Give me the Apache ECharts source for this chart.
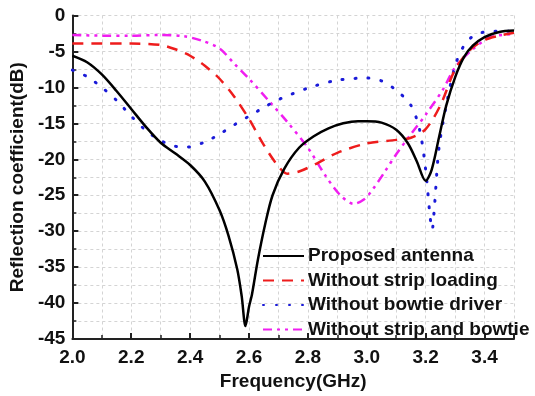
<!DOCTYPE html>
<html>
<head>
<meta charset="utf-8">
<script src="https://cdn.jsdelivr.net/npm/echarts@6/dist/echarts.min.js"></script>
<style>
  html, body { margin: 0; padding: 0; background: #fff; }
  #chart { width: 535px; height: 396px; }
</style>
</head>
<body>
<div id="chart"></div>
<script>
// Reflection coefficient vs frequency for four antenna configurations
const freqProposed = [2.0, 2.05, 2.1, 2.15, 2.2, 2.25, 2.3, 2.35, 2.4, 2.45, 2.5, 2.53, 2.56, 2.575, 2.588, 2.6, 2.61, 2.63, 2.655, 2.68, 2.72, 2.77, 2.82, 2.87, 2.92, 2.97, 3.0, 3.05, 3.1, 3.14, 3.17, 3.2, 3.22, 3.245, 3.27, 3.3, 3.33, 3.36, 3.4, 3.45, 3.5];
const s11Proposed = [-5.6, -6.5, -8.2, -10.5, -13.0, -15.5, -17.7, -19.2, -20.8, -23.1, -27.1, -30.6, -35.3, -39.0, -43.2, -40.5, -38.8, -34.0, -29.0, -25.0, -21.3, -18.4, -16.8, -15.7, -15.0, -14.7, -14.7, -14.9, -15.9, -17.8, -20.3, -23.0, -21.5, -17.0, -12.5, -8.6, -5.8, -4.2, -3.0, -2.3, -2.1];

const freqNoStrip = [2.0, 2.1, 2.2, 2.3, 2.35, 2.4, 2.45, 2.5, 2.55, 2.6, 2.65, 2.7, 2.73, 2.77, 2.83, 2.9, 3.0, 3.1, 3.15, 3.2, 3.25, 3.3, 3.35, 3.4, 3.45, 3.5];
const s11NoStrip = [-3.9, -3.9, -3.9, -4.1, -4.7, -5.6, -7.0, -8.8, -11.3, -14.4, -18.0, -21.0, -22.0, -21.7, -20.6, -19.1, -17.8, -17.3, -17.0, -15.8, -12.5, -7.5, -4.8, -3.4, -2.8, -2.4];

const freqNoBowtie = [2.0, 2.05, 2.1, 2.15, 2.2, 2.25, 2.3, 2.35, 2.39, 2.45, 2.5, 2.55, 2.6, 2.65, 2.7, 2.8, 2.9, 3.0, 3.05, 3.1, 3.15, 3.18, 3.2, 3.215, 3.222, 3.23, 3.245, 3.27, 3.3, 3.33, 3.36, 3.4, 3.45, 3.5];
const s11NoBowtie = [-7.6, -8.5, -10.0, -11.8, -14.0, -16.0, -17.4, -18.2, -18.3, -17.6, -16.5, -15.2, -14.0, -12.8, -11.7, -10.1, -9.0, -8.7, -9.1, -10.4, -12.5, -16.0, -21.5, -28.0, -29.8, -26.5, -18.5, -12.5, -7.0, -4.2, -2.9, -2.3, -2.2, -2.2];

const freqNoBoth = [2.0, 2.1, 2.2, 2.3, 2.38, 2.44, 2.5, 2.55, 2.6, 2.67, 2.73, 2.8, 2.86, 2.91, 2.955, 2.99, 3.02, 3.06, 3.1, 3.15, 3.2, 3.26, 3.3, 3.36, 3.42, 3.5];
const s11NoBoth = [-2.7, -2.8, -2.8, -2.7, -2.9, -3.5, -4.6, -6.7, -8.8, -12.0, -14.8, -18.4, -22.3, -25.0, -26.2, -25.6, -24.2, -21.8, -19.3, -16.5, -13.8, -10.2, -7.2, -4.7, -3.0, -2.6];

const seriesNames = ['Proposed antenna', 'Without strip loading', 'Without bowtie driver', 'Without strip and bowtie'];

function pairs(xs, ys) { return xs.map((x, i) => [x, ys[i]]); }

const fontFamily = '"Liberation Sans", Arial, sans-serif';
const axisColor = '#222';
const gridLine = { show: true, lineStyle: { color: '#d4d4d4', type: [3, 3], width: 1 } };
const labelFont = { fontFamily, fontWeight: 'bold', fontSize: 19, color: '#111' };

// itemStyle is transparent so the legend shows only the line sample
function lineSeries(name, xs, ys, color, width, dash, cap, z) {
  return {
    name, type: 'line', data: pairs(xs, ys), smooth: 0.3,
    symbol: 'none', showSymbol: false, z,
    lineStyle: { color, width, type: dash, cap },
    itemStyle: { color: 'rgba(0,0,0,0)', borderWidth: 0 }
  };
}

const chart = echarts.init(document.getElementById('chart'), null, { renderer: 'canvas' });
chart.setOption({
  animation: false,
  backgroundColor: '#fff',
  grid: { left: 69, right: 21, top: 15.5, bottom: 52, containLabel: false },
  xAxis: {
    type: 'value', min: 2.0, max: 3.5, interval: 0.2,
    name: 'Frequency(GHz)', nameLocation: 'middle', nameGap: 33,
    nameTextStyle: labelFont,
    axisLine: { show: true, onZero: false, lineStyle: { color: axisColor, width: 2 } },
    axisTick: { show: true, inside: true, length: 6, lineStyle: { color: axisColor, width: 2 } },
    minorTick: { show: true, splitNumber: 2, length: 4, lineStyle: { color: axisColor, width: 1.5 } },
    splitLine: gridLine,
    minorSplitLine: gridLine,
    axisLabel: Object.assign({ margin: 9, formatter: v => v.toFixed(1), showMaxLabel: false }, labelFont)
  },
  yAxis: {
    type: 'value', min: -45, max: 0, interval: 5,
    name: 'Reflection coefficient(dB)', nameLocation: 'middle', nameGap: 38, nameRotate: 90,
    nameTextStyle: labelFont,
    axisLine: { show: true, onZero: false, lineStyle: { color: axisColor, width: 2 } },
    axisTick: { show: true, inside: true, length: 6, lineStyle: { color: axisColor, width: 2 } },
    minorTick: { show: true, splitNumber: 2, length: 4, lineStyle: { color: axisColor, width: 1.5 } },
    splitLine: gridLine,
    minorSplitLine: gridLine,
    axisLabel: Object.assign({ margin: 7 }, labelFont)
  },
  legend: {
    orient: 'vertical', left: 262, top: 246, width: 273, height: 120, padding: 0,
    itemWidth: 41, itemHeight: 14, itemGap: 4.5,
    itemStyle: { color: 'rgba(0,0,0,0)', borderWidth: 0 },
    textStyle: Object.assign({ lineHeight: 20, padding: [0, 0, 0, -1] }, labelFont),
    data: seriesNames
  },
  series: [
    lineSeries(seriesNames[0], freqProposed, s11Proposed, '#000', 2.5, 'solid', 'butt', 5),
    lineSeries(seriesNames[1], freqNoStrip, s11NoStrip, '#ee1c1c', 2.5, [11, 8], 'butt', 4),
    lineSeries(seriesNames[2], freqNoBowtie, s11NoBowtie, '#1a1ad8', 3, [1, 12], 'round', 3),
    lineSeries(seriesNames[3], freqNoBoth, s11NoBoth, '#f01ef0', 2.5, [9, 5, 3, 5, 3, 5], 'butt', 2)
  ]
});
</script>
</body>
</html>
